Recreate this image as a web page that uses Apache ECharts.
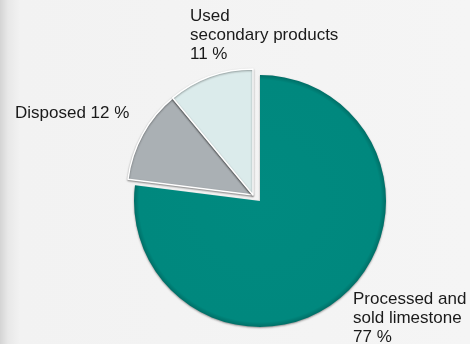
<!DOCTYPE html>
<html>
<head>
<meta charset="utf-8">
<script src="https://cdn.jsdelivr.net/npm/echarts@6/dist/echarts.min.js"></script>
<style>
  html, body { margin: 0; padding: 0; }
  body {
    width: 470px; height: 344px; overflow: hidden;
    background: linear-gradient(to right, #d4d4d4 0px, #e8e8e8 8px, #f2f2f2 20px, #f5f5f5 100%);
  }
  #chart { width: 470px; height: 344px; }
</style>
</head>
<body>
<div id="chart"></div>
<script>
// Limestone use, share in percent
const categories = ['Processed and\nsold limestone', 'Disposed', 'Used\nsecondary products'];
const shares = [77, 12, 11];
const labelTexts = ['Processed and\nsold limestone\n77 %', 'Disposed 12 %', 'Used\nsecondary products\n11 %'];

const sliceColors = [
  { type: 'radial', x: 0.5, y: 0.5, r: 0.5, colorStops: [
    { offset: 0, color: '#008a80' }, { offset: 0.96, color: '#00887e' }, { offset: 1, color: '#006e66' }] },
  '#aab0b4',
  '#dbebeb'
];

// Fixed label anchors (top-left of each text block)
const labelAnchors = [[353, 290], [15, 104], [190, 7]];

const chart = echarts.init(document.getElementById('chart'), null, { renderer: 'canvas' });

// Main slice stays in place; the two smaller slices are pulled out together
const detached = [false, true, true];

function buildData(showDetached) {
  return categories.map((name, i) => {
    const visible = detached[i] === showDetached;
    return {
      name: name,
      value: shares[i],
      itemStyle: visible ? {
        color: sliceColors[i],
        borderColor: showDetached ? '#ffffff' : 'rgba(0,0,0,0)',
        borderWidth: showDetached ? 1.5 : 0,
        shadowBlur: 2,
        shadowColor: 'rgba(0,0,0,0.4)',
        shadowOffsetX: 0,
        shadowOffsetY: 1
      } : { color: 'rgba(0,0,0,0)', borderWidth: 0 },
      label: { show: visible, formatter: labelTexts[i] }
    };
  });
}

const labelStyle = {
  position: 'outside',
  color: '#1a1a1a',
  fontFamily: 'Liberation Sans, Arial, sans-serif',
  fontSize: 17,
  lineHeight: 19,
  align: 'left',
  overflow: 'none'
};

function layoutFn(params) {
  const p = labelAnchors[params.dataIndex];
  return { x: p[0], y: p[1], align: 'left', verticalAlign: 'top' };
}

chart.setOption({
  backgroundColor: 'transparent',
  animation: false,
  series: [
    {
      type: 'pie',
      center: [260, 201],
      radius: 126,
      startAngle: 90,
      clockwise: true,
      silent: true,
      label: labelStyle,
      labelLine: { show: false },
      labelLayout: layoutFn,
      data: buildData(false)
    },
    {
      type: 'pie',
      center: [253, 195],
      radius: 126,
      startAngle: 90,
      clockwise: true,
      silent: true,
      label: labelStyle,
      labelLine: { show: false },
      labelLayout: layoutFn,
      data: buildData(true)
    }
  ]
});
</script>
</body>
</html>
